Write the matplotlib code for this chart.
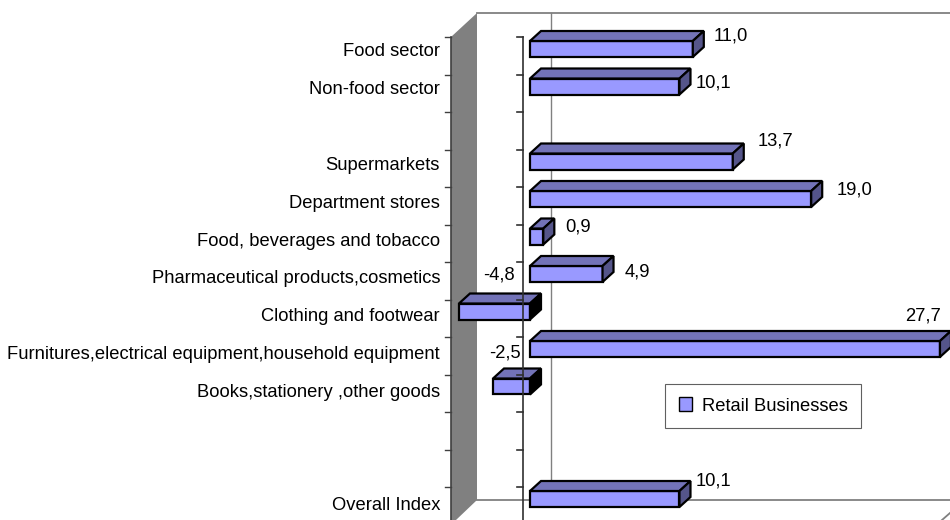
import matplotlib
matplotlib.use("Agg")
from matplotlib import pyplot as plt
from matplotlib.patches import Polygon, Patch

plt.rcParams['font.family'] = ['Liberation Sans', 'DejaVu Sans']

categories = ["Food sector", "Non-food sector", "", "Supermarkets", "Department stores",
              "Food, beverages and tobacco", "Pharmaceutical products,cosmetics",
              "Clothing and footwear", "Furnitures,electrical equipment,household equipment",
              "Books,stationery ,other goods", "", "", "Overall Index"]
values = [11.0, 10.1, None, 13.7, 19.0, 0.9, 4.9, -4.8, 27.7, -2.5, None, None, 10.1]
value_labels = ["11,0", "10,1", "", "13,7", "19,0", "0,9", "4,9", "-4,8", "27,7", "-2,5", "", "", "10,1"]
series_name = "Retail Businesses"

# pixel offsets of the value labels from the end of the bar
label_dx = [21, 16, 0, 25, 25, 22, 22, 24, -35, -4, 0, 0, 16]
label_dy = [13, 4, 0, 20, 9, 10, 2, 37, 33, 34, 0, 0, 18]

W, H = 950, 520
PX_PER_UNIT = 14.8
ZERO_X = 530
ROW_H = 37.5
FIRST_ROW = 49
DEPTH_X = 11 / PX_PER_UNIT
DEPTH_Y = 10 / ROW_H
BAR_H = 16 / ROW_H
FONT = 13.2

FRONT = "#9999ff"
TOP = "#7373b8"
SIDE = "#55558a"

fig = plt.figure(figsize=(W / 100, H / 100), dpi=100)

# chart box in plain pixels
bg = fig.add_axes([0, 0, 1, 1])
bg.set_xlim(0, W)
bg.set_ylim(H, 0)
bg.axis("off")
bg.add_patch(Polygon([(451, 37), (477, 13), (477, 500), (456, 520), (451, 520)],
                     facecolor="#808080", edgecolor="none"))
bg.plot([477, W], [13, 13], color="#808080", lw=1.3)
bg.plot([477, W], [500, 500], color="#808080", lw=1.3)
bg.plot([551, 551], [13, 500], color="#808080", lw=1.0)
bg.plot([942, W], [520, 513], color="#808080", lw=1.3)
bg.plot([451, 451], [37, H], color="#404040", lw=1.2)
for t in range(13):
    yt = 37 + 37.5 * t
    bg.plot([445, 451], [yt, yt], color="#404040", lw=1.0)

# bars, in data units
ax = fig.add_axes([0, 0, 1, 1], facecolor="none")
ax.set_xlim(-ZERO_X / PX_PER_UNIT, (W - ZERO_X) / PX_PER_UNIT)
ax.set_ylim((H - FIRST_ROW) / ROW_H, -FIRST_ROW / ROW_H)
ax.axis("off")

for i, v in enumerate(values):
    if v is None:
        continue
    lo, hi = min(v, 0), max(v, 0)
    y0, y1 = i - BAR_H / 2, i + BAR_H / 2
    ax.barh(i, v, height=BAR_H, color=FRONT, edgecolor="black", linewidth=1.6, zorder=3)
    ax.add_patch(Polygon([(lo, y0), (lo + DEPTH_X, y0 - DEPTH_Y), (hi + DEPTH_X, y0 - DEPTH_Y), (hi, y0)],
                         facecolor=TOP, edgecolor="black", linewidth=1.6, zorder=3))
    ax.add_patch(Polygon([(hi, y0), (hi + DEPTH_X, y0 - DEPTH_Y), (hi + DEPTH_X, y1 - DEPTH_Y), (hi, y1)],
                         facecolor=SIDE if v > 0 else "black", edgecolor="black", linewidth=1.6, zorder=3))
    ax.annotate(value_labels[i], xy=(v, i), xytext=(label_dx[i] * 0.72, label_dy[i] * 0.72),
                textcoords="offset points", ha="left", va="center", fontsize=FONT, zorder=5)

# category axis in front of the bars
ax_x = (523 - ZERO_X) / PX_PER_UNIT
tick_x = (517 - ZERO_X) / PX_PER_UNIT
ax.plot([ax_x, ax_x], [-12 / ROW_H, 14], color="#303030", lw=1.2, zorder=4, clip_on=True)
for t in range(13):
    yt = t - 12 / ROW_H
    ax.plot([tick_x, ax_x], [yt, yt], color="#303030", lw=1.2, zorder=4)

for i, name in enumerate(categories):
    if name:
        ax.annotate(name, xy=(ax_x, i), xytext=((440 - 523) * 0.72, -(3 + 0.33 * i) * 0.72),
                    textcoords="offset points", ha="right", va="center", fontsize=FONT)

leg = ax.legend(handles=[Patch(facecolor=FRONT, edgecolor="black", linewidth=1.0, label=series_name)],
                loc="center", bbox_to_anchor=(763 / W, 1 - 406 / H), bbox_transform=fig.transFigure,
                fancybox=False, framealpha=1, edgecolor="#606060", fontsize=FONT,
                handlelength=0.75, handleheight=0.75, handletextpad=0.5, borderpad=0.72, borderaxespad=0)
leg.get_frame().set_linewidth(0.8)
leg.set_zorder(6)

fig.savefig("out.png", dpi=100)
